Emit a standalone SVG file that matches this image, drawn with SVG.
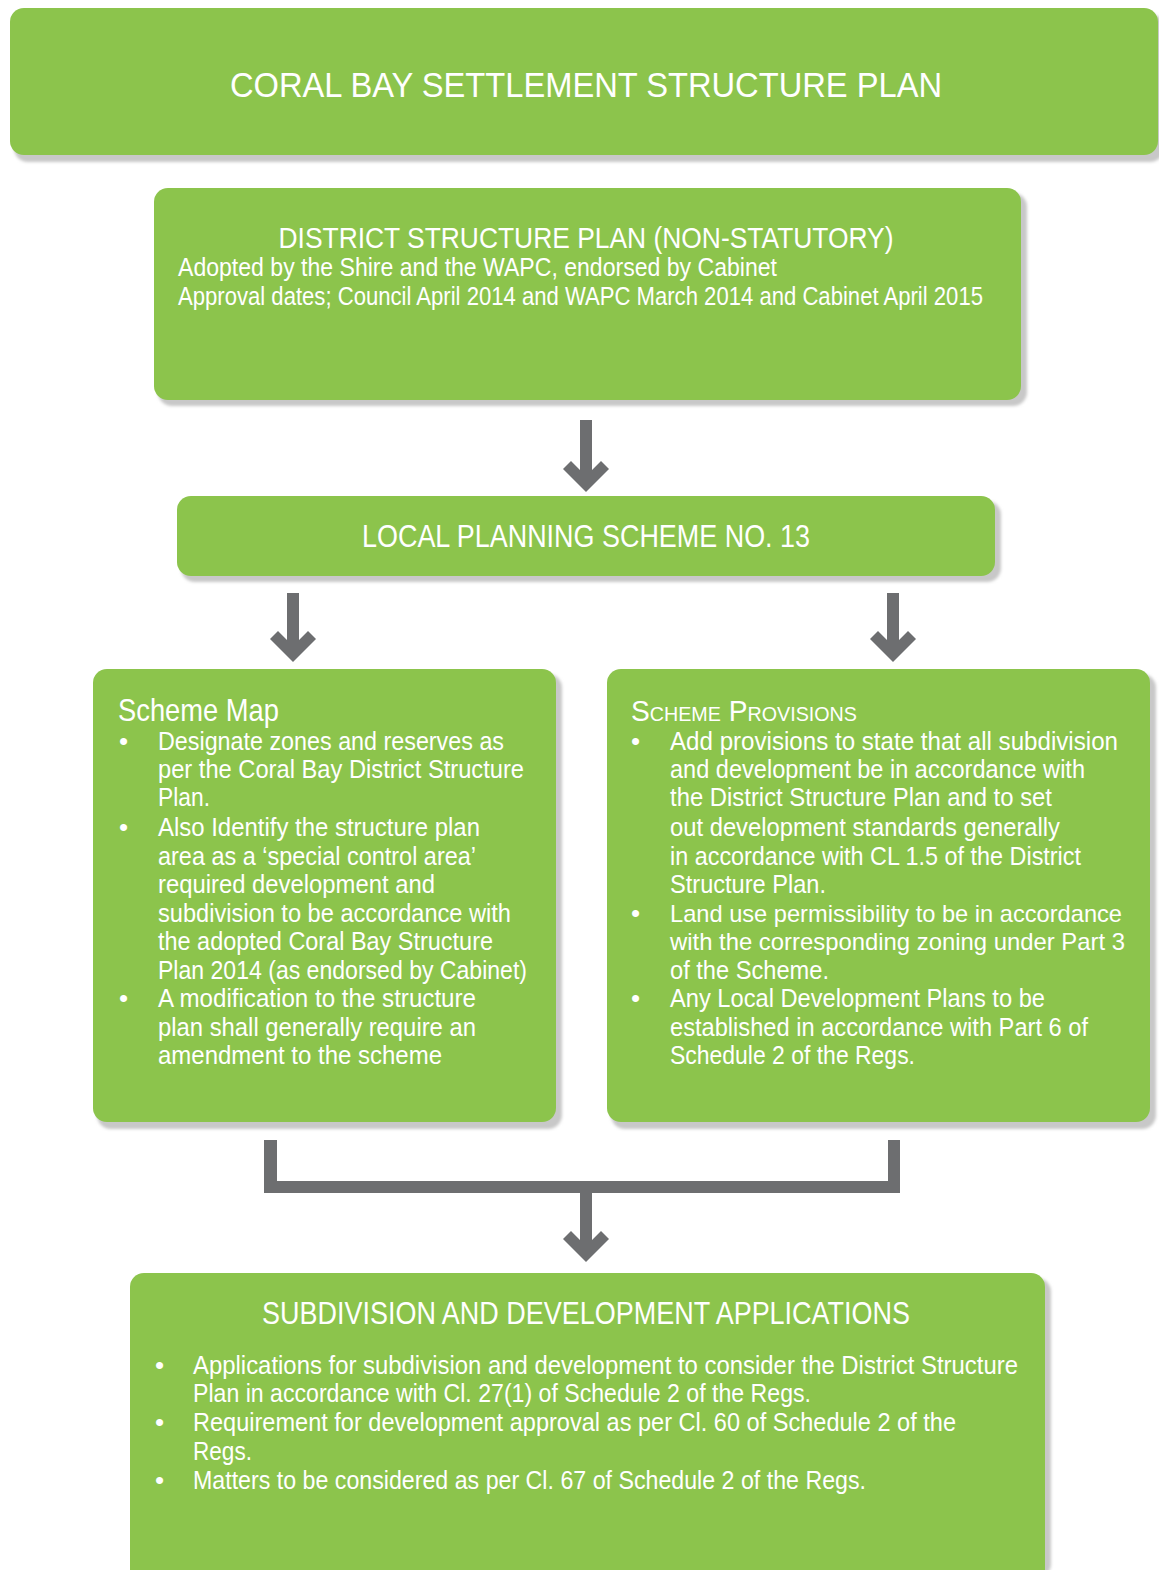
<svg xmlns="http://www.w3.org/2000/svg" width="1159" height="1570" viewBox="0 0 1159 1570">
<style>
.box{fill:#8cc44c}
.sh{fill:#c8c8c8;filter:url(#blur)}
text{fill:#ffffff;font-family:"Liberation Sans Narrow","Liberation Sans","DejaVu Sans Condensed",sans-serif}
.h{font-size:32px}
.b{font-size:26px}
.s{font-size:24px}
.arrow{fill:#6d6e70}
</style>
<defs>
<filter id="blur" x="-5%" y="-5%" width="110%" height="110%"><feGaussianBlur stdDeviation="1.5"/></filter>
</defs>

<g id="title">
<rect class="sh" x="14" y="14" width="1150" height="148" rx="14"/>
<rect class="box" x="10" y="8" width="1148" height="147" rx="14"/>
<text x="586" y="97" text-anchor="middle" style="font-size:35px" textLength="712" lengthAdjust="spacingAndGlyphs">CORAL BAY SETTLEMENT STRUCTURE PLAN</text>
</g>

<g id="district">
<rect class="sh" x="158" y="193" width="869" height="213" rx="14"/>
<rect class="box" x="154" y="188" width="867" height="212" rx="14"/>
<text class="h" x="586" y="248" text-anchor="middle" style="font-size:30px" textLength="615" lengthAdjust="spacingAndGlyphs">DISTRICT STRUCTURE PLAN (NON-STATUTORY)</text>
<text class="b" x="178" y="276" textLength="599" lengthAdjust="spacingAndGlyphs">Adopted by the Shire and the WAPC, endorsed by Cabinet</text>
<text class="b" x="178" y="305" textLength="805" lengthAdjust="spacingAndGlyphs">Approval dates; Council April 2014 and WAPC March 2014 and Cabinet April 2015</text>
</g>

<g id="lps">
<rect class="sh" x="181" y="501" width="820" height="81" rx="14"/>
<rect class="box" x="177" y="496" width="818" height="80" rx="14"/>
<text class="h" x="586" y="547" text-anchor="middle" textLength="448" lengthAdjust="spacingAndGlyphs">LOCAL PLANNING SCHEME NO. 13</text>
</g>

<g id="scheme-map">
<rect class="sh" x="97" y="674" width="465" height="455" rx="14"/>
<rect class="box" x="93" y="669" width="463" height="453" rx="14"/>
<text class="h" x="118" y="721" textLength="161" lengthAdjust="spacingAndGlyphs">Scheme Map</text>
<text class="b" x="119" y="750">•</text>
<text class="b" x="119" y="836">•</text>
<text class="b" x="119" y="1007">•</text>
<text class="b" x="158" y="750" textLength="346" lengthAdjust="spacingAndGlyphs">Designate zones and reserves as</text>
<text class="b" x="158" y="778" textLength="366" lengthAdjust="spacingAndGlyphs">per the Coral Bay District Structure</text>
<text class="b" x="158" y="806" textLength="52" lengthAdjust="spacingAndGlyphs">Plan.</text>
<text class="b" x="158" y="836" textLength="322" lengthAdjust="spacingAndGlyphs">Also Identify the structure plan</text>
<text class="b" x="158" y="865" textLength="318" lengthAdjust="spacingAndGlyphs">area as a ‘special control area’</text>
<text class="b" x="158" y="893" textLength="277" lengthAdjust="spacingAndGlyphs">required development and</text>
<text class="b" x="158" y="922" textLength="353" lengthAdjust="spacingAndGlyphs">subdivision to be accordance with</text>
<text class="b" x="158" y="950" textLength="335" lengthAdjust="spacingAndGlyphs">the adopted Coral Bay Structure</text>
<text class="b" x="158" y="979" textLength="369" lengthAdjust="spacingAndGlyphs">Plan 2014 (as endorsed by Cabinet)</text>
<text class="b" x="158" y="1007" textLength="318" lengthAdjust="spacingAndGlyphs">A modification to the structure</text>
<text class="b" x="158" y="1036" textLength="318" lengthAdjust="spacingAndGlyphs">plan shall generally require an</text>
<text class="b" x="158" y="1064" textLength="284" lengthAdjust="spacingAndGlyphs">amendment to the scheme</text>
</g>

<g id="scheme-provisions">
<rect class="sh" x="611" y="674" width="545" height="455" rx="14"/>
<rect class="box" x="607" y="669" width="543" height="453" rx="14"/>
<text x="631" y="721" style="font-size:30px;font-variant:small-caps" textLength="226" lengthAdjust="spacingAndGlyphs">Scheme Provisions</text>
<text class="b" x="631" y="750">•</text>
<text class="b" x="631" y="922">•</text>
<text class="b" x="631" y="1007">•</text>
<text class="b" x="670" y="750" textLength="448" lengthAdjust="spacingAndGlyphs">Add provisions  to state that all subdivision</text>
<text class="b" x="670" y="778" textLength="415" lengthAdjust="spacingAndGlyphs">and development be in accordance with</text>
<text class="b" x="670" y="806" textLength="382" lengthAdjust="spacingAndGlyphs">the District Structure Plan and to set</text>
<text class="b" x="670" y="836" textLength="390" lengthAdjust="spacingAndGlyphs">out development standards generally</text>
<text class="b" x="670" y="865" textLength="411" lengthAdjust="spacingAndGlyphs">in accordance with CL 1.5 of the District</text>
<text class="b" x="670" y="893" textLength="156" lengthAdjust="spacingAndGlyphs">Structure Plan.</text>
<text class="s" x="670" y="922" textLength="452" lengthAdjust="spacingAndGlyphs">Land use permissibility to be in accordance</text>
<text class="s" x="670" y="950" textLength="455" lengthAdjust="spacingAndGlyphs">with the corresponding zoning under Part 3</text>
<text class="b" x="670" y="979" textLength="159" lengthAdjust="spacingAndGlyphs">of the Scheme.</text>
<text class="b" x="670" y="1007" textLength="375" lengthAdjust="spacingAndGlyphs">Any Local Development Plans to be</text>
<text class="b" x="670" y="1036" textLength="418" lengthAdjust="spacingAndGlyphs">established in accordance with Part 6 of</text>
<text class="b" x="670" y="1064" textLength="245" lengthAdjust="spacingAndGlyphs">Schedule 2 of the Regs.</text>
</g>

<g id="applications">
<rect class="sh" x="134" y="1278" width="917" height="300" rx="14"/>
<rect class="box" x="130" y="1273" width="915" height="310" rx="14"/>
<text class="h" x="586" y="1324" text-anchor="middle" style="font-size:31px" textLength="648" lengthAdjust="spacingAndGlyphs">SUBDIVISION AND DEVELOPMENT APPLICATIONS</text>
<text class="b" x="155" y="1374">•</text>
<text class="b" x="155" y="1431">•</text>
<text class="b" x="155" y="1489">•</text>
<text class="b" x="193" y="1374" textLength="825" lengthAdjust="spacingAndGlyphs">Applications for subdivision and development to consider the District Structure</text>
<text class="b" x="193" y="1402" textLength="618" lengthAdjust="spacingAndGlyphs">Plan in accordance with Cl. 27(1) of Schedule 2 of the Regs.</text>
<text class="b" x="193" y="1431" textLength="763" lengthAdjust="spacingAndGlyphs">Requirement for development approval as per Cl. 60 of Schedule 2 of the</text>
<text class="b" x="193" y="1460" textLength="59" lengthAdjust="spacingAndGlyphs">Regs.</text>
<text class="b" x="193" y="1489" textLength="673" lengthAdjust="spacingAndGlyphs">Matters to be considered as per Cl. 67 of Schedule 2 of the Regs.</text>
</g>

<g id="connectors">
<polygon class="arrow" points="580,420 592,420 592,470 601,461 609,469 586,492 563,469 571,461 580,470"/>
<polygon class="arrow" points="287,593 299,593 299,640 308,631 316,639 293,662 270,639 278,631 287,640"/>
<polygon class="arrow" points="887,593 899,593 899,640 908,631 916,639 893,662 870,639 878,631 887,640"/>
<polygon class="arrow" points="264,1140 277,1140 277,1181 888,1181 888,1140 900,1140 900,1193 592,1193 592,1240 601,1231 609,1239 586,1262 563,1239 571,1231 580,1240 580,1193 264,1193"/>
</g>
</svg>
